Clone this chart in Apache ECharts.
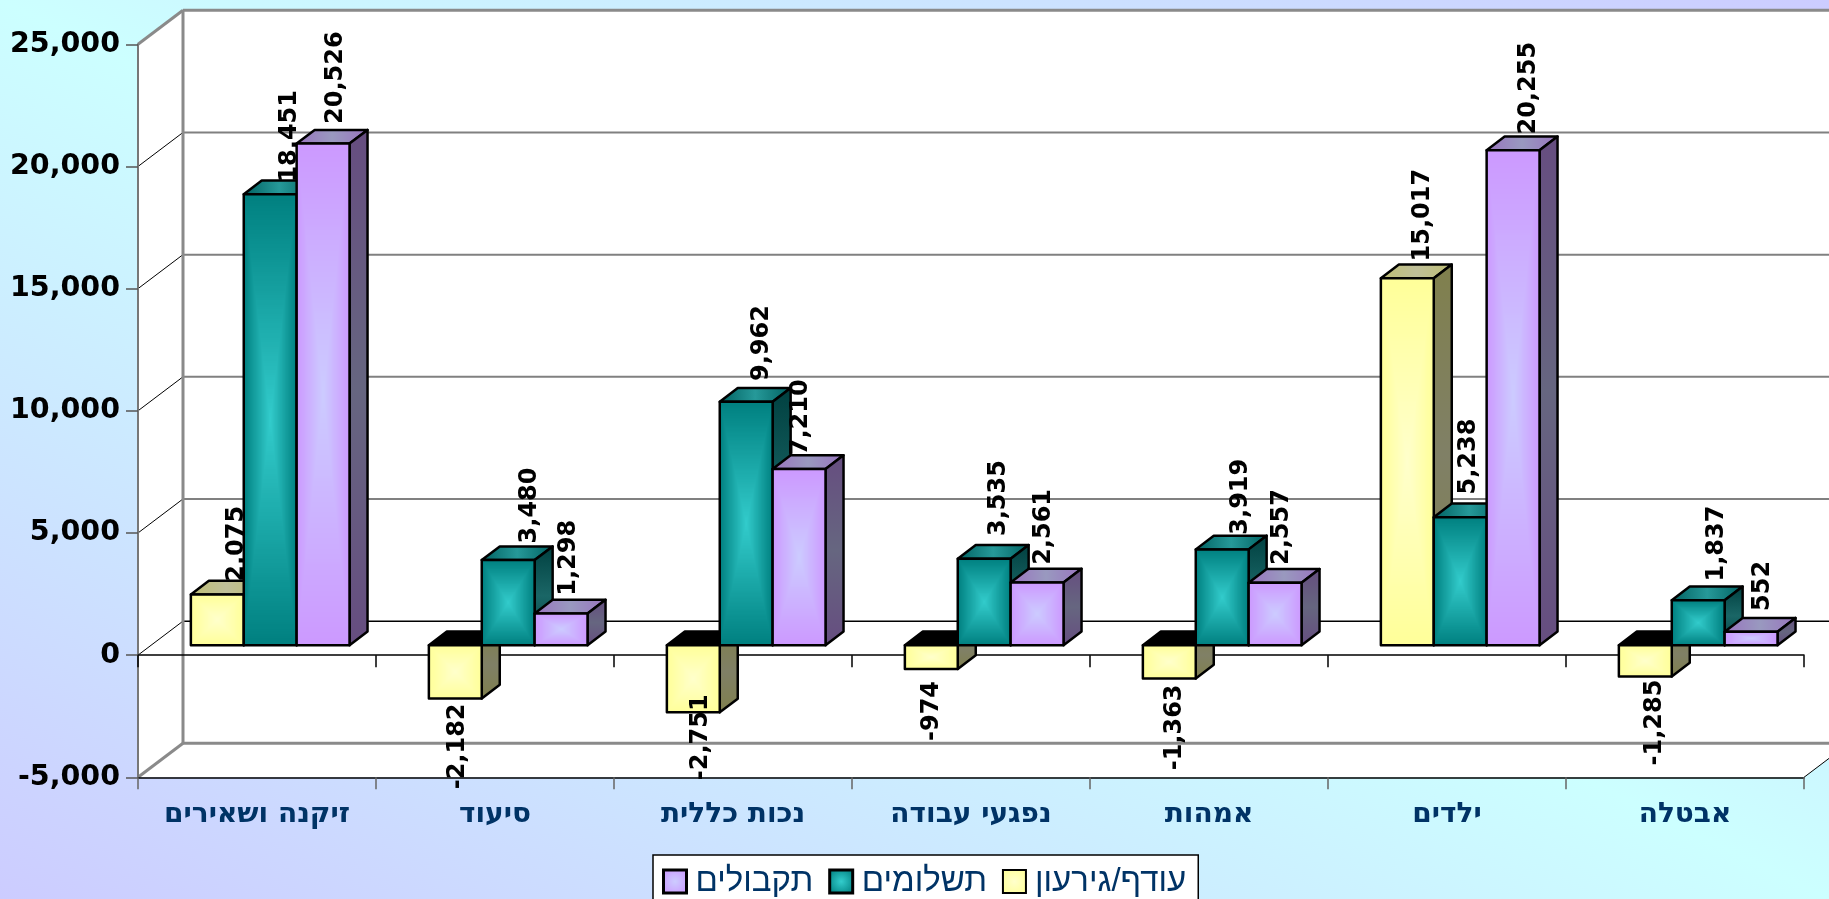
<!DOCTYPE html>
<html lang="he">
<head>
<meta charset="utf-8">
<style>
html,body{margin:0;padding:0;width:100%;height:100%;overflow:hidden}
#main{width:1829px;height:899px;background:linear-gradient(to top right,#CCCCFF 0%,#CCFFFF 50%,#CCCCFF 100%)}
</style>
<script src="https://cdn.jsdelivr.net/npm/echarts@6/dist/echarts.min.js"></script>
</head>
<body>
<div id="main"></div>
<script>
const categories = ['זיקנה ושאירים','סיעוד','נכות כללית','נפגעי עבודה','אמהות','ילדים','אבטלה'];
const seriesNames = ['עודף/גירעון','תשלומים','תקבולים'];
const balance  = [2075,-2182,-2751,-974,-1363,15017,-1285];
const payments = [18451,3480,9962,3535,3919,5238,1837];
const receipts = [20526,1298,7210,2561,2557,20255,552];
const yTicks = [-5000,0,5000,10000,15000,20000,25000];

// label placement relative to each bar, in px: sideways shift and gap from the bar end
const balanceLabelShift  = [[19,-1],[2,5],[7,-18],[0,12],[5,6],[15,3],[9,3]];
const paymentsLabelShift = [[20,-2],[22,3],[16,7],[15,9],[19,1],[9,9],[19,5]];
const receiptsLabelShift = [[13,6],[8,4],[2,0],[7,4],[7,4],[16,2],[12,7]];

const WALL_DX = 45, WALL_DY = 34;       // plot depth
const BAR_DX = 18, BAR_DY = 13.7;       // bar depth
const SHIFT_DX = 13.2, SHIFT_DY = 10;   // front plane to front of bars
const NAVY = '#003366';

function shade(hex, k){
  const n = parseInt(hex.slice(1),16);
  const c = [n>>16&255,n>>8&255,n&255].map(v=>Math.round(v*k));
  return 'rgb('+c.join(',')+')';
}
function boxCanvas(edge, center){
  const S = 96, cv = document.createElement('canvas');
  cv.width = cv.height = S;
  const ctx = cv.getContext('2d'), img = ctx.createImageData(S,S);
  const e = parseInt(edge.slice(1),16), c = parseInt(center.slice(1),16);
  const E = [e>>16&255,e>>8&255,e&255], C = [c>>16&255,c>>8&255,c&255];
  for(let j=0;j<S;j++)for(let i=0;i<S;i++){
    const u = Math.abs((i+.5)/S*2-1), v = Math.abs((j+.5)/S*2-1), t = Math.max(u,v), p = (j*S+i)*4;
    for(let k=0;k<3;k++) img.data[p+k] = C[k]+(E[k]-C[k])*t;
    img.data[p+3] = 255;
  }
  ctx.putImageData(img,0,0);
  return cv;
}
const palette = [
  {edge:'#FFFF99',center:'#FFFFCC'},
  {edge:'#008080',center:'#33CCCC'},
  {edge:'#CC99FF',center:'#CCCCFF'}
];
palette.forEach(p=>p.canvas = boxCanvas(p.edge,p.center));

function linear(x,y,x2,y2,a,b){
  return new echarts.graphic.LinearGradient(x,y,x2,y2,[{offset:0,color:a},{offset:.5,color:b},{offset:1,color:a}]);
}
const STROKE = {stroke:'#000',lineWidth:2.5,lineJoin:'round'};

function barRenderer(si, shifts){
  const pal = palette[si];
  return function(params, api){
    const idx = params.dataIndex, val = api.value(1);
    const base = api.coord([api.value(0),0]), end = api.coord([api.value(0),val]);
    const band = api.size([1,0])[0], w = band/1.5/3;
    const xl = base[0]+SHIFT_DX+(si-1.5)*w, xr = xl+w;
    const yEnd = end[1]-SHIFT_DY, yBase = base[1]-SHIFT_DY;
    const top = Math.min(yEnd,yBase), bot = Math.max(yEnd,yBase);
    const neg = val<0, ch = [];
    ch.push({type:'polygon',shape:{points:[[xl,top],[xl+BAR_DX,top-BAR_DY],[xr+BAR_DX,top-BAR_DY],[xr,top]]},
      style:Object.assign({fill:neg?'#000':linear(0,0,1,0,shade(pal.edge,.75),shade(pal.center,.75))},STROKE)});
    ch.push({type:'polygon',shape:{points:[[xr,top],[xr+BAR_DX,top-BAR_DY],[xr+BAR_DX,bot-BAR_DY],[xr,bot]]},
      style:Object.assign({fill:linear(0,0,0,1,shade(pal.edge,.5),shade(pal.center,.5))},STROKE)});
    ch.push({type:'image',style:{image:pal.canvas,x:xl,y:top,width:w,height:bot-top}});
    ch.push({type:'rect',shape:{x:xl,y:top,width:w,height:bot-top},style:Object.assign({fill:'none'},STROKE)});
    const s = shifts[idx], cx = (xl+xr)/2+s[0];
    ch.push({type:'text',x:cx,y:neg?bot+s[1]:top-BAR_DY-s[1],rotation:Math.PI/2,
      style:{text:val.toLocaleString('en-US'),fill:'#000',font:'bold 24px "DejaVu Sans"',
        align:neg?'right':'left',verticalAlign:'middle'}});
    return {type:'group',children:ch};
  };
}

function wallRenderer(params, api){
  const r = params.coordSys, L = r.x, R = r.x+r.width, T = r.y, B = r.y+r.height;
  const ch = [{type:'polygon',shape:{points:[[L,T],[L+WALL_DX,T-WALL_DY],[R+WALL_DX,T-WALL_DY],[R+WALL_DX,B-WALL_DY],[R,B],[L,B]]},
    style:{fill:'#fff'}}];
  yTicks.forEach(v=>{
    const y = api.coord([0,v])[1], edge = v===yTicks[0]||v===yTicks[yTicks.length-1], zero = v===0;
    const c = zero?'#000':'#808080';
    ch.push({type:'line',shape:{x1:L+WALL_DX,y1:y-WALL_DY,x2:R+WALL_DX,y2:y-WALL_DY},
      style:{stroke:edge?'#8a8a8a':c,lineWidth:edge?3:(zero?1.5:2)}});
    ch.push({type:'line',shape:{x1:L,y1:y,x2:L+WALL_DX,y2:y-WALL_DY},
      style:{stroke:edge?'#8a8a8a':'#000',lineWidth:edge?3:1}});
  });
  ch.push({type:'line',shape:{x1:L+WALL_DX,y1:T-WALL_DY,x2:L+WALL_DX,y2:B-WALL_DY},style:{stroke:'#8a8a8a',lineWidth:3}});
  ch.push({type:'line',shape:{x1:R,y1:B,x2:R+WALL_DX,y2:B-WALL_DY},style:{stroke:'#000',lineWidth:1}});
  return {type:'group',children:ch};
}

function legendIcon(i){
  const p = palette[i];
  return {color:new echarts.graphic.RadialGradient(.5,.5,.6,[{offset:0,color:p.center},{offset:1,color:p.edge}]),
    borderColor:'#000',borderWidth:i===0?2:3};
}
const valuesBySeries = [balance,payments,receipts];
const shiftsBySeries = [balanceLabelShift,paymentsLabelShift,receiptsLabelShift];

const chart = echarts.init(document.getElementById('main'),null,{renderer:'canvas'});
chart.setOption({
  animation:false,
  backgroundColor:'transparent',
  grid:{left:138,right:25,top:44.3,bottom:121.7,containLabel:false},
  legend:{
    left:653,top:855,orient:'horizontal',selectedMode:false,
    data:[2,1,0].map(i=>({name:seriesNames[i],icon:'rect',itemStyle:legendIcon(i)})),
    itemWidth:23,itemHeight:23,itemGap:15,
    padding:[10,12,24,9],
    backgroundColor:'#fff',borderColor:'#000',borderWidth:1.5,
    textStyle:{color:NAVY,fontFamily:'"Liberation Sans"',fontSize:33,padding:[0,0,0,4]}
  },
  xAxis:[
    {type:'category',data:categories,position:'bottom',z:1,
      axisLine:{onZero:false,lineStyle:{color:'#000',width:1.5}},
      axisTick:{show:true,length:12,alignWithLabel:false,lineStyle:{color:'#666',width:1.5}},
      axisLabel:{color:NAVY,fontFamily:'"DejaVu Sans"',fontWeight:'bold',fontSize:28,margin:23,interval:0},
      splitLine:{show:false}},
    {type:'category',data:categories,position:'top',z:1,
      axisLine:{onZero:true,lineStyle:{color:'#000',width:1.5}},
      axisTick:{show:true,inside:true,length:12,lineStyle:{color:'#000',width:1.5}},
      axisLabel:{show:false},splitLine:{show:false}}
  ],
  yAxis:{type:'value',min:yTicks[0],max:yTicks[yTicks.length-1],interval:5000,z:1,
    axisLine:{show:true,onZero:false,lineStyle:{color:'#777',width:2}},
    axisTick:{show:true,length:12,lineStyle:{color:'#555',width:1.5}},
    axisLabel:{color:'#000',fontFamily:'"DejaVu Sans"',fontWeight:'bold',fontSize:28.5,margin:18,padding:[10,0,0,0],
      formatter:v=>v.toLocaleString('en-US')},
    splitLine:{show:false}},
  series:[
    {type:'custom',name:'walls',z:0,silent:true,xAxisIndex:0,yAxisIndex:0,clip:false,data:[[0,0]],renderItem:wallRenderer,encode:{x:0,y:1}}
  ].concat([0,1,2].map(i=>({
    type:'custom',name:seriesNames[i],z:2+i,xAxisIndex:0,yAxisIndex:0,clip:false,
    itemStyle:{color:palette[i].edge},
    data:categories.map((c,k)=>[k,valuesBySeries[i][k]]),
    encode:{x:0,y:1},
    renderItem:barRenderer(i,shiftsBySeries[i])
  })))
});
</script>
</body>
</html>
